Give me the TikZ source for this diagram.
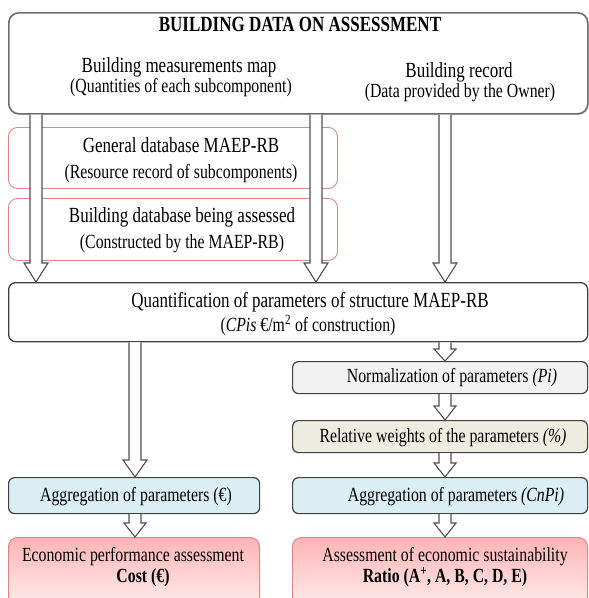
\documentclass[tikz,border=0pt]{standalone}
\usepackage{graphicx}
\usepackage{fontspec}
\setmainfont{Liberation Serif}
\usetikzlibrary{calc,shadows}
\definecolor{boxgray}{HTML}{6E6E6E}
\definecolor{darkline}{HTML}{404040}
\definecolor{arrowgray}{HTML}{505050}
\definecolor{redline}{HTML}{E08484}
\definecolor{normfill}{HTML}{F2F2F2}
\definecolor{relfill}{HTML}{EEECE1}
\definecolor{aggfill}{HTML}{DBEEF4}
\definecolor{redtop}{HTML}{FFB4B4}
\definecolor{redbot}{HTML}{FFEDED}
\newcommand\vstretch[1]{\scalebox{1}[1.27]{#1}}
\tikzset{
  boxbase/.style={inner sep=0pt, anchor=north west},
  topbox/.style={boxbase, draw=boxgray, line width=1.6pt, rounded corners=10pt, fill=white,
    drop shadow={shadow xshift=1pt, shadow yshift=-1pt, opacity=0.35}},
  redbox/.style={boxbase, draw=redline, line width=0.9pt, rounded corners=9pt, fill=white},
  quantbox/.style={boxbase, draw=darkline, line width=1.3pt, rounded corners=7pt, fill=white},
  smallbox/.style={boxbase, draw=darkline, line width=1.2pt, rounded corners=6pt},
  resbox/.style={boxbase, draw=redline, line width=1pt, rounded corners=9pt, top color=redtop, bottom color=redbot},
  barrowstyle/.style={draw=arrowgray, line width=1.1pt, fill=white, line join=miter},
  tbig/.style={inner sep=0pt, anchor=base, font=\fontsize{17}{20}\selectfont},
  tsmall/.style={inner sep=0pt, anchor=base, font=\fontsize{15.8}{19}\selectfont},
}
\newcommand\blockarrow[4]{% start, end, head length, head half width
  \draw[barrowstyle] let \p1=(#1), \p2=(#2) in
    (\x1-6pt,\y1) -- (\x1-6pt,\y2+#3) -- (\x1-#4,\y2+#3) -- (\x1,\y2)
    -- (\x1+#4,\y2+#3) -- (\x1+6pt,\y2+#3) -- (\x1+6pt,\y1);}
\begin{document}
\begin{tikzpicture}[x=1pt,y=-1pt]
\useasboundingbox (0,0) rectangle (589,598);
\clip (0,0) rectangle (589,598);
% boxes
\node[topbox, minimum width=579pt, minimum height=101pt] (top) at (8,12) {};
\node[redbox, minimum width=329pt, minimum height=61pt] (red1) at (8,127) {};
\node[redbox, minimum width=329pt, minimum height=62pt] (red2) at (8,198) {};
\node[quantbox, minimum width=579pt, minimum height=59pt] (quant) at (8,282) {};
\node[smallbox, fill=normfill, minimum width=295pt, minimum height=32pt] (norm) at (292,361) {};
\node[smallbox, fill=relfill, minimum width=295pt, minimum height=32pt] (rel) at (292,420) {};
\node[smallbox, fill=aggfill, minimum width=251pt, minimum height=36pt] (aggL) at (8,477) {};
\node[smallbox, fill=aggfill, minimum width=295pt, minimum height=36pt] (aggR) at (292,477) {};
\node[resbox, minimum width=251pt, minimum height=70pt] (resL) at (8,537) {};
\node[resbox, minimum width=295pt, minimum height=70pt] (resR) at (292,537) {};
% column coordinates
\coordinate (cA) at (36,0);
\coordinate (cB) at (316,0);
\coordinate (cC) at (445,0);
\coordinate (cD) at (135,0);
% arrows
\blockarrow{cA |- top.south}{cA |- quant.north}{19pt}{12pt}
\blockarrow{cB |- top.south}{cB |- quant.north}{19pt}{12pt}
\blockarrow{cC |- top.south}{cC |- quant.north}{19pt}{12pt}
\blockarrow{cD |- quant.south}{cD |- aggL.north}{17pt}{12pt}
\blockarrow{cC |- quant.south}{cC |- norm.north}{12pt}{11pt}
\blockarrow{cC |- norm.south}{cC |- rel.north}{14pt}{11pt}
\blockarrow{cC |- rel.south}{cC |- aggR.north}{14pt}{11pt}
\blockarrow{cD |- aggL.south}{cD |- resL.north}{14pt}{11pt}
\blockarrow{cC |- aggR.south}{cC |- resR.north}{14pt}{11pt}
% texts
\node[tbig] (t0) at (300,31) {\vstretch{\bfseries BUILDING DATA ON ASSESSMENT}};
\node[tbig] (t1) at (179,72) {\vstretch{Building measurements map}};
\node[tsmall] (t2) at (181,92) {\vstretch{(Quantities of each subcomponent)}};
\node[tbig] (t3) at (459,77) {\vstretch{Building record}};
\node[tsmall] (t4) at (460,97) {\vstretch{(Data provided by the Owner)}};
\node[tbig] (t5) at (181,152) {\vstretch{General database MAEP-RB}};
\node[tsmall] (t6) at (181,178) {\vstretch{(Resource record of subcomponents)}};
\node[tbig] (t7) at (182,222) {\vstretch{Building database being assessed}};
\node[tsmall] (t8) at (182,248) {\vstretch{(Constructed by the MAEP-RB)}};
\node[tbig] (t9) at (310,307) {\vstretch{Quantification of parameters of structure MAEP-RB}};
\node[tsmall] (t10) at (308,331) {\vstretch{(\textit{CPis} €/m\textsuperscript{2} of construction)}};
\node[tsmall] (t11) at (452,382) {\vstretch{Normalization of parameters \textit{(Pi)}}};
\node[tsmall] (t12) at (443,442) {\vstretch{Relative weights of the parameters \textit{(\%)}}};
\node[tsmall] (t13) at (136,501) {\vstretch{Aggregation of parameters (€)}};
\node[tsmall] (t14) at (456,501) {\vstretch{Aggregation of parameters \textit{(CnPi)}}};
\node[tsmall] (t15) at (133,561) {\vstretch{Economic performance assessment}};
\node[tsmall] (t16) at (143,582) {\vstretch{\bfseries Cost (€)}};
\node[tsmall] (t17) at (445,561) {\vstretch{Assessment of economic sustainability}};
\node[tsmall] (t18) at (445,582) {\vstretch{\bfseries Ratio (A\textsuperscript{+}, A, B, C, D, E)}};
\end{tikzpicture}
\end{document}
